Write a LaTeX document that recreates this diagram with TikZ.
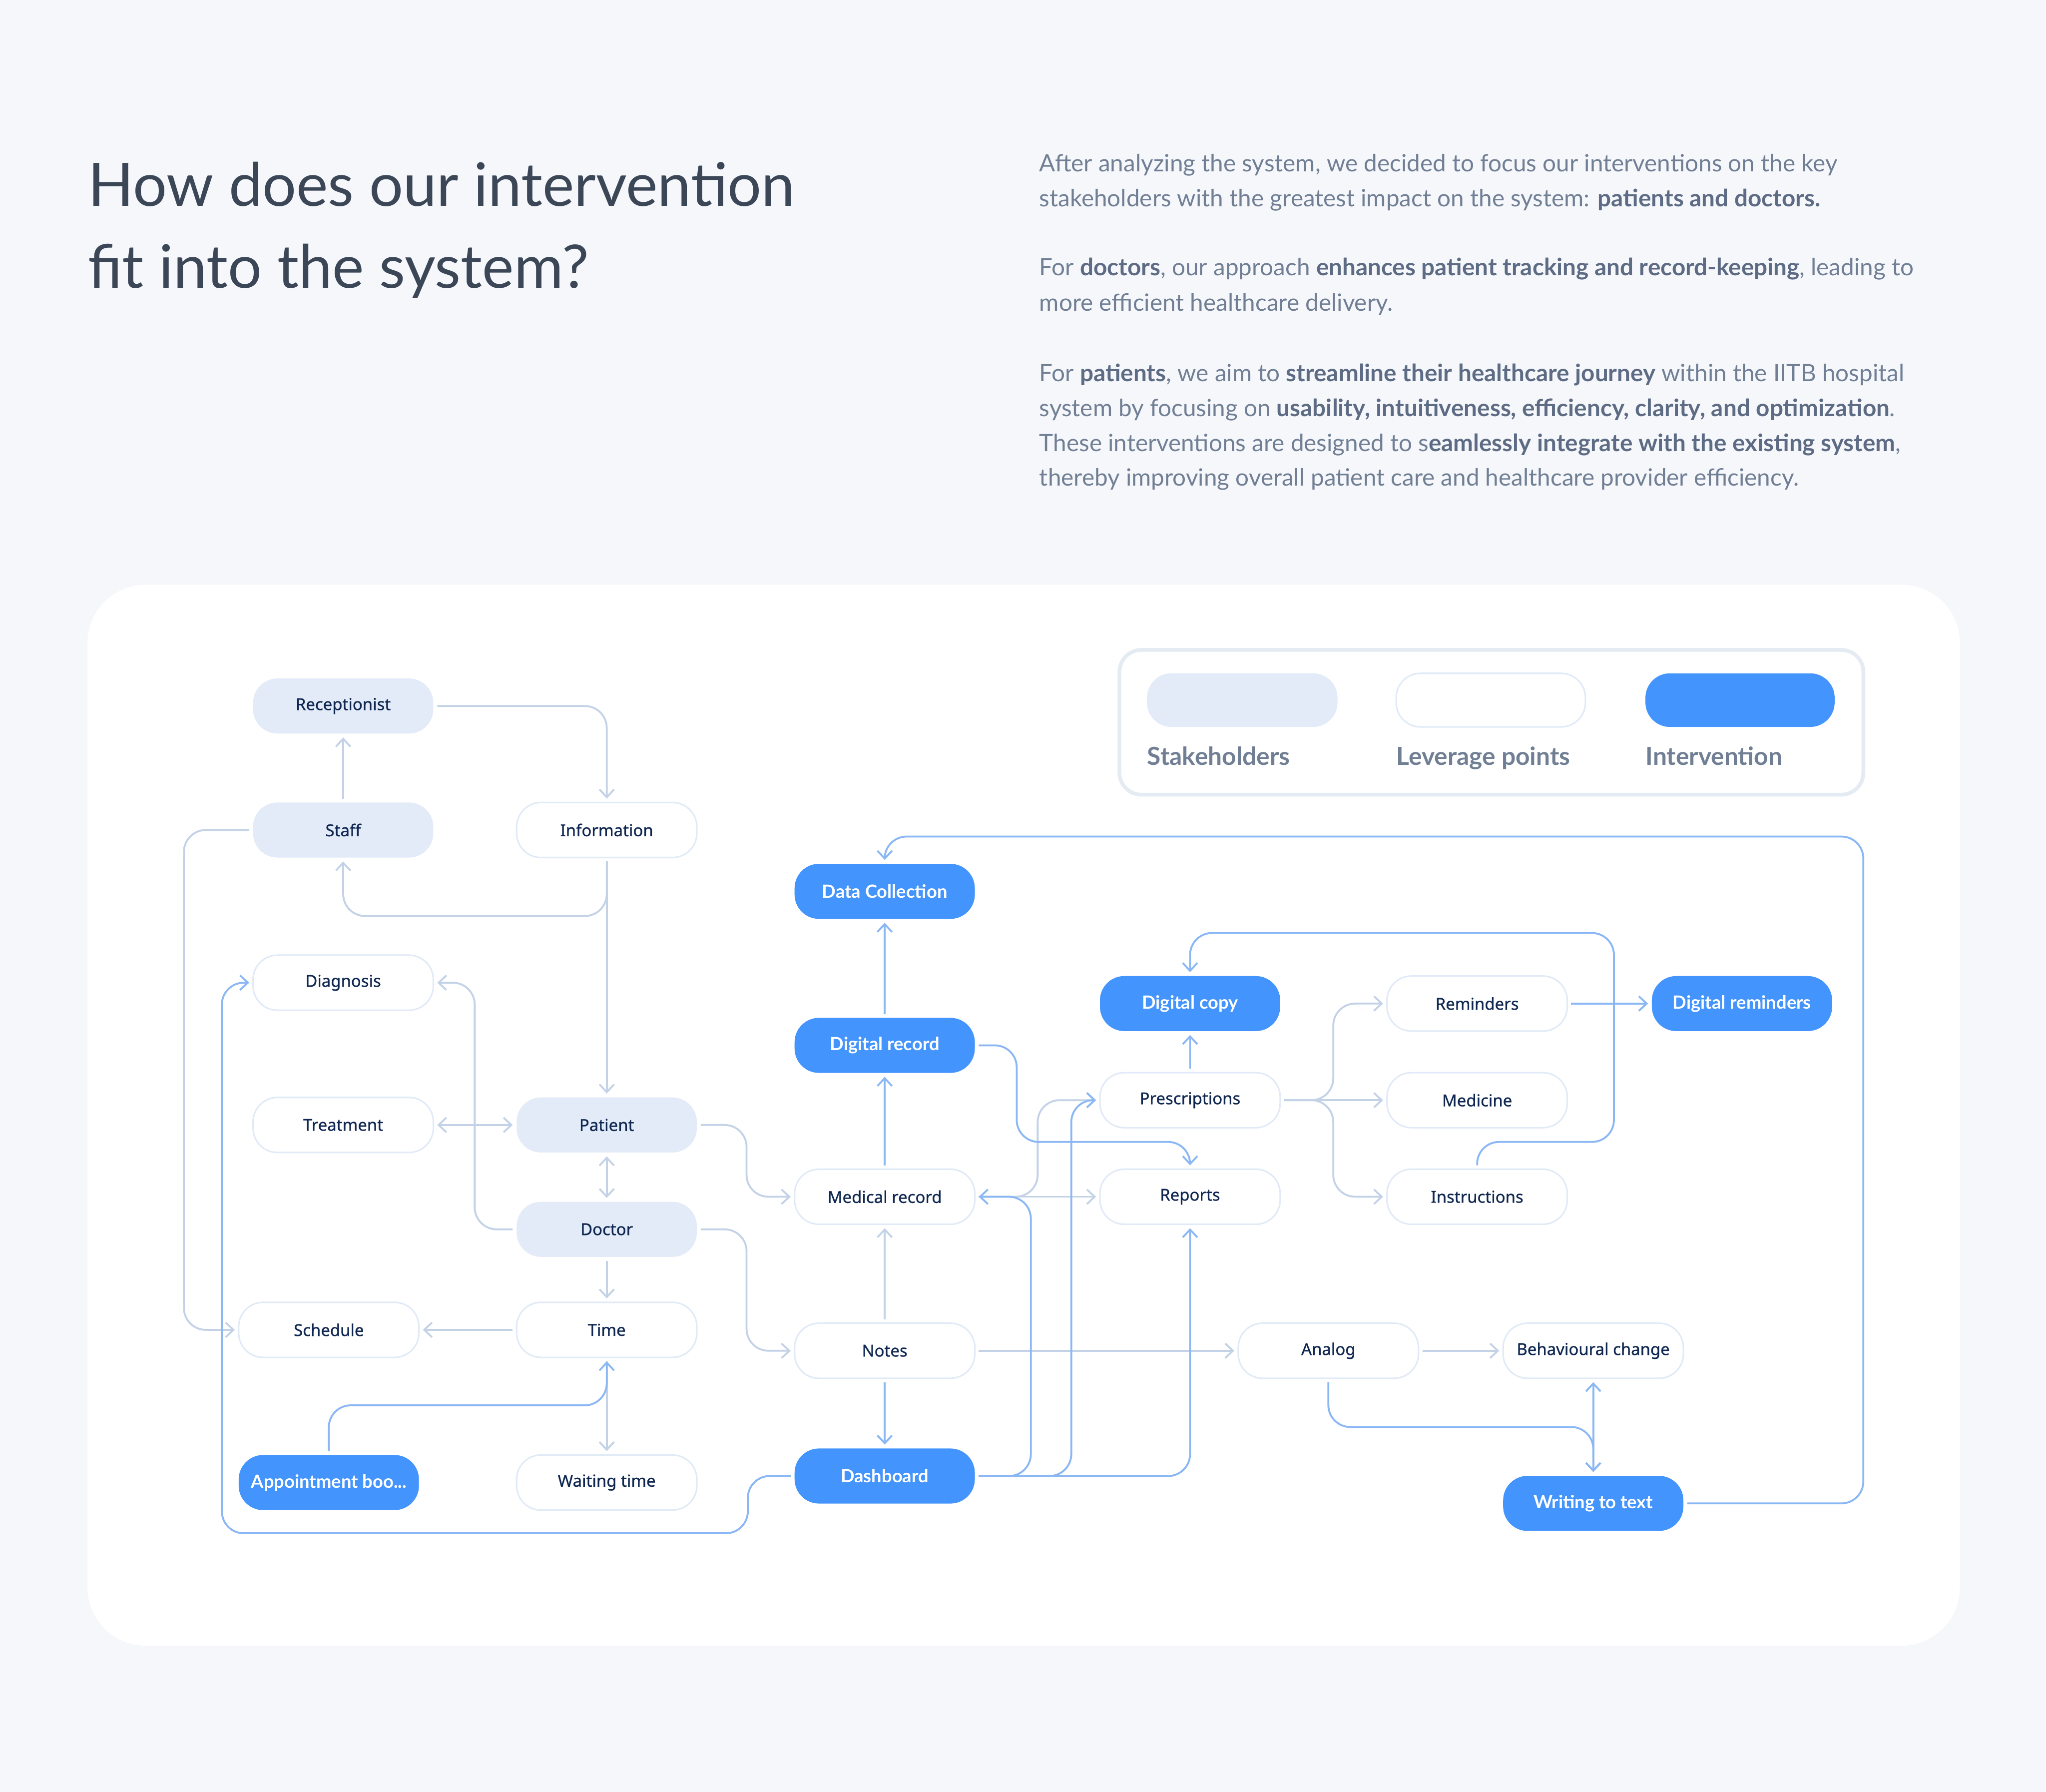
\documentclass[tikz,border=0pt]{standalone}
\usepackage{fontspec}
\setmainfont{Lato}
\newfontfamily\boxfont{Noto Sans}[FakeBold=0.8]
\usetikzlibrary{arrows.meta}

\definecolor{pagebg}{HTML}{F5F7FB}
\definecolor{headtext}{HTML}{3B4757}
\definecolor{paratext}{HTML}{717F95}
\definecolor{parabold}{HTML}{5D6C84}
\definecolor{nodetext}{HTML}{0F2751}
\definecolor{stakefill}{HTML}{E2EBF7}
\definecolor{leverline}{HTML}{E1EAF7}
\definecolor{interfill}{HTML}{4394FC}
\definecolor{litelink}{HTML}{C4D2E7}
\definecolor{bluelink}{HTML}{8BB8F5}
\definecolor{legendline}{HTML}{E5EBF3}

\begin{document}
\begin{tikzpicture}[
  >={Straight Barb[length=1.6mm,width=3mm]},
  box/.style={rounded corners=0.5cm,minimum width=3.7cm,minimum height=1.13cm,inner sep=0pt,outer sep=0.08cm,
    font=\boxfont\fontsize{9.6}{12}\selectfont,text=nodetext},
  stake/.style={box,fill=stakefill},
  lever/.style={box,fill=white,draw=leverline,line width=0.9pt},
  inter/.style={box,fill=interfill,text=white,font=\bfseries\fontsize{10.6}{12}\selectfont},
  lite/.style={draw=litelink,line width=1.1pt,rounded corners=0.45cm},
  link/.style={draw=bluelink,line width=1.1pt,rounded corners=0.45cm},
  heading/.style={anchor=base west,inner sep=0pt,font=\fontsize{35}{42}\selectfont,text=headtext},
  para/.style={anchor=base west,inner sep=0pt,font=\fontsize{13.9}{16}\selectfont,text=paratext},
  legendtxt/.style={anchor=base west,inner sep=0pt,font=\bfseries\fontsize{14.5}{17}\selectfont,text=paratext},
]
\newcommand{\hl}[1]{\textcolor{parabold}{\textbf{#1}}}

% page and panel
\fill[pagebg] (0,0) rectangle (42,-36.78);
\useasboundingbox (0,0) rectangle (42,-36.78);
\fill[white,rounded corners=1.2cm] (1.795,-12.0) rectangle (40.232,-33.777);

% heading and text
\node[heading] (head1) at (1.8,-4.227) {How does our intervention};
\node[heading] (head2) at (1.8,-5.907) {fit into the system?};

\node[para] (p1) at (21.33,-3.52) {After analyzing the system, we decided to focus our interventions on the key};
\node[para] (p2) at (21.33,-4.235) {stakeholders with the greatest impact on the system: \hl{patients and doctors.}};
\node[para] (p3) at (21.33,-5.66) {For \hl{doctors}, our approach \hl{enhances patient tracking and record-keeping}, leading to};
\node[para] (p4) at (21.33,-6.38) {more efficient healthcare delivery.};
\node[para] (p5) at (21.33,-7.83) {For \hl{patients}, we aim to \hl{streamline their healthcare journey} within the IITB hospital};
\node[para] (p6) at (21.33,-8.55) {system by focusing on \hl{usability, intuitiveness, efficiency, clarity, and optimization}.};
\node[para] (p7) at (21.33,-9.26) {These interventions are designed to s\hl{eamlessly integrate with the existing system},};
\node[para] (p8) at (21.33,-9.97) {thereby improving overall patient care and healthcare provider efficiency.};

% legend
\draw[legendline,line width=2.2pt,rounded corners=0.45cm] (22.98,-13.34) rectangle (38.25,-16.31);
\fill[stakefill,rounded corners=0.5cm] (23.545,-13.82) rectangle (27.456,-14.92);
\draw[leverline,fill=white,line width=0.9pt,rounded corners=0.5cm] (28.66,-13.82) rectangle (32.545,-14.92);
\fill[interfill,rounded corners=0.5cm] (33.777,-13.82) rectangle (37.661,-14.92);
\node[legendtxt] (lgstake) at (23.545,-15.70) {Stakeholders};
\node[legendtxt] (lglever) at (28.66,-15.70) {Leverage points};
\node[legendtxt] (lginter) at (33.777,-15.70) {Intervention};

% nodes
\node[stake] (rec) at (7.045,-14.491) {Receptionist};
\node[stake] (staff) at (7.045,-17.036) {Staff};
\node[lever] (info) at (12.455,-17.036) {Information};
\node[lever] (diag) at (7.045,-20.170) {Diagnosis};
\node[lever] (treat) at (7.045,-23.090) {Treatment};
\node[stake] (patient) at (12.455,-23.090) {Patient};
\node[stake] (doctor) at (12.455,-25.232) {Doctor};
\node[lever] (sched) at (6.750,-27.295) {Schedule};
\node[lever] (time) at (12.455,-27.295) {Time};
\node[inter] (appt) at (6.750,-30.429) {Appointment boo...};
\node[lever] (wait) at (12.455,-30.429) {Waiting time};

\node[inter] (datacol) at (18.161,-18.295) {Data Collection};
\node[inter] (digrec) at (18.161,-21.456) {Digital record};
\node[lever] (medrec) at (18.161,-24.563) {Medical record};
\node[lever] (notes) at (18.161,-27.724) {Notes};
\node[inter] (dash) at (18.161,-30.295) {Dashboard};

\node[inter] (digcopy) at (24.429,-20.598) {Digital copy};
\node[lever] (presc) at (24.429,-22.581) {Prescriptions};
\node[lever] (reports) at (24.429,-24.563) {Reports};
\node[lever] (remind) at (30.322,-20.598) {Reminders};
\node[lever] (medic) at (30.322,-22.581) {Medicine};
\node[lever] (instr) at (30.322,-24.563) {Instructions};
\node[inter] (digrem) at (35.759,-20.598) {Digital reminders};

\node[lever] (analog) at (27.268,-27.724) {Analog};
\node[lever] (behav) at (32.706,-27.724) {Behavioural change};
\node[inter] (writing) at (32.706,-30.857) {Writing to text};

% existing links
\draw[lite,->] (staff.north) -- (rec.south);
\draw[lite,->] (rec.east) -| (info.north);
\draw[lite,->] (info.south) -- (patient.north);
\draw[lite,->] (info.south) -- ++(0,-1.12) -| (staff.south);
\draw[lite,->] (staff.west) -- ++(-1.34,0) |- (sched.west);
\draw[lite,->] (doctor.west) -- ++(-0.78,0) |- (diag.east);
\draw[lite,<->] (treat.east) -- (patient.west);
\draw[lite,<->] (patient.south) -- (doctor.north);
\draw[lite,->] (doctor.south) -- (time.north);
\draw[lite,->] (time.west) -- (sched.east);
\draw[lite,->] (time.south) -- (wait.north);
\draw[lite,->] (patient.east) -- ++(0.94,0) |- (medrec.west);
\draw[lite,->] (doctor.east) -- ++(0.94,0) |- (notes.west);
\draw[lite,->] (notes.north) -- (medrec.south);
\draw[lite,->] (notes.east) -- (analog.west);
\draw[lite,->] (analog.east) -- (behav.west);
\draw[lite,->] (medrec.east) -- (reports.west);
\draw[lite,->] (medrec.east) -- ++(1.21,0) |- (presc.west);
\draw[lite,->] (presc.east) -- (medic.west);
\draw[lite,->] (presc.east) -- ++(1.01,0) |- (remind.west);
\draw[lite,->] (presc.east) -- ++(1.01,0) |- (instr.west);

% intervention links
\draw[link,->] (medrec.north) -- (digrec.south);
\draw[link,->] (digrec.north) -- (datacol.south);
\draw[link,->] (notes.south) -- (dash.north);
\draw[link,->] (dash.west) -- ++(-0.88,0) |- (4.554,-31.47) |- (diag.west);
\draw[link,->] (appt.north) -- ++(0,0.94) -| (time.south);
\draw[link,->] (digrec.east) -- ++(0.78,0) |- ([yshift=0.48cm]reports.north) -- (reports.north);
\draw[link,->] (dash.east) -- ++(1.07,0) |- (medrec.east);
\draw[link,->] (dash.east) -- ++(1.9,0) |- (presc.west);
\draw[link,->] (dash.east) -| (reports.south);
\draw[link,->] (presc.north) -- (digcopy.south);
\draw[link,->] (remind.east) -- (digrem.west);
\draw[link,->] (instr.north) -- ++(0,0.48) -| (33.13,-19.15) -| (digcopy.north);
\draw[link,->] (writing.east) -| (38.25,-17.17) -| (datacol.north);
\draw[link,->] (analog.south) -- ++(0,-0.92) -| (writing.north);
\draw[link,<->] (writing.north) -- (behav.south);

\end{tikzpicture}
\end{document}
